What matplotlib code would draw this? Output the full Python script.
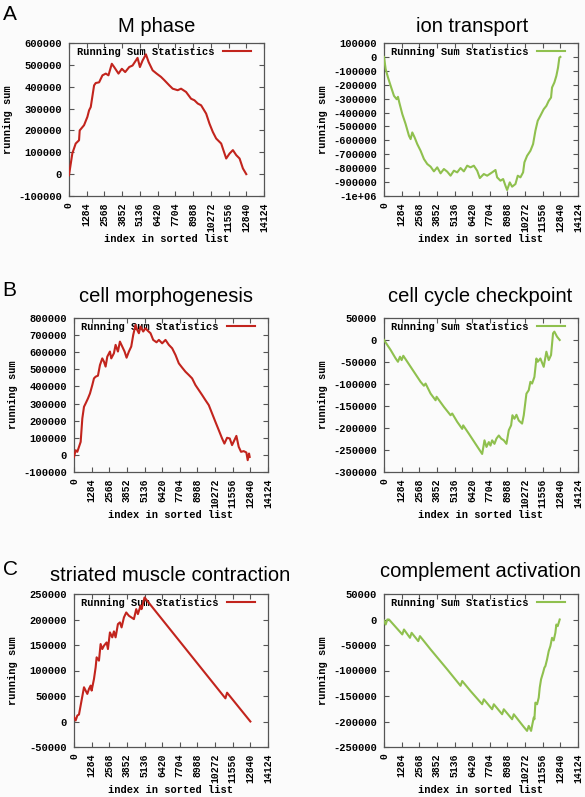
import numpy as np
import matplotlib
matplotlib.use("Agg")
import matplotlib.pyplot as plt
from matplotlib.font_manager import FontProperties
from matplotlib.ticker import FuncFormatter, MultipleLocator

# -----------------------------
# Data
# -----------------------------
mphase_x = [0, 242, 485, 727, 775, 1090, 1332, 1454, 1575, 1817, 1938, 2180, 2423, 2665,
            2859, 3101, 3271, 3585, 3828, 4070, 4361, 4603, 4845, 4966, 5136, 5330, 5572,
            5766, 6057, 6347, 6662, 6904, 7268, 7510, 7873, 8116, 8479, 8842, 9085, 9327,
            9569, 9933, 10175, 10417, 10659, 11023, 11386, 11628, 11871, 12113, 12355,
            12597, 12840]
mphase_y = [-5000, 95000, 140000, 155000, 200000, 224000, 262000, 292000, 307000, 406000,
            417000, 420000, 452000, 460000, 452000, 505000, 490000, 460000, 482000, 467000,
            490000, 497000, 520000, 532000, 490000, 520000, 548000, 513000, 475000, 460000,
            445000, 430000, 406000, 391000, 384000, 391000, 376000, 345000, 338000, 323000,
            315000, 277000, 231000, 193000, 163000, 140000, 71500, 94000, 110000, 87000,
            71500, 26000, 0]

ion_x = [0, 121, 291, 485, 727, 921, 1017, 1114, 1332, 1575, 1817, 1938, 2059, 2229, 2423,
         2665, 2907, 3149, 3392, 3634, 3876, 4118, 4361, 4603, 4845, 5087, 5330, 5572, 5814,
         6057, 6299, 6541, 6783, 6977, 7268, 7510, 7873, 8116, 8237, 8479, 8673, 8842, 8964,
         9157, 9327, 9569, 9739, 9933, 10127, 10223, 10417, 10659, 10853, 11023, 11192,
         11386, 11628, 11822, 11992, 12161, 12234, 12403, 12549, 12670, 12767, 12840]
ion_y = [0, -88000, -148000, -208000, -280000, -304000, -287000, -328000, -411000, -483000,
         -567000, -591000, -543000, -579000, -627000, -675000, -734000, -770000, -789000,
         -823000, -794000, -837000, -806000, -825000, -854000, -818000, -830000, -799000,
         -823000, -782000, -794000, -782000, -818000, -871000, -842000, -854000, -830000,
         -813000, -866000, -890000, -878000, -926000, -957000, -902000, -933000, -914000,
         -854000, -866000, -830000, -758000, -711000, -675000, -627000, -531000, -459000,
         -423000, -376000, -352000, -316000, -292000, -220000, -184000, -136000, -77000,
         -5000, 0]

morph_x = [0, 121, 242, 363, 485, 606, 727, 848, 1017, 1163, 1332, 1454, 1575, 1744, 1890,
           2059, 2180, 2301, 2423, 2616, 2713, 2907, 3028, 3198, 3343, 3513, 3682, 3828,
           3997, 4167, 4312, 4482, 4603, 4724, 4845, 5039, 5209, 5378, 5572, 5766, 6008,
           6178, 6420, 6662, 6904, 7147, 7389, 7631, 7873, 8116, 8358, 8600, 8842, 9085,
           9327, 9569, 9812, 10054, 10296, 10538, 10781, 10950, 11144, 11338, 11507, 11677,
           11822, 11992, 12161, 12355, 12549, 12646, 12743, 12791]
morph_y = [-12000, 27000, 18000, 47000, 76000, 213000, 281000, 301000, 330000, 359000,
           408000, 447000, 457000, 463000, 525000, 564000, 545000, 516000, 574000, 604000,
           564000, 594000, 643000, 604000, 662000, 633000, 604000, 568000, 604000, 633000,
           701000, 760000, 730000, 711000, 750000, 721000, 740000, 725000, 711000, 672000,
           658000, 672000, 652000, 672000, 643000, 623000, 584000, 535000, 510000, 486000,
           467000, 447000, 408000, 379000, 350000, 320000, 291000, 242000, 193000, 145000,
           96000, 66000, 100000, 96000, 57000, 86000, 111000, 47000, 18000, 22000,
           14000, -31000, 8000, -12000]

check_x = [0, 485, 848, 1017, 1163, 1284, 1405, 1696, 2180, 2665, 2907, 3028, 3392, 3755,
           3828, 4361, 4845, 4966, 5330, 5693, 5766, 6178, 6662, 7147, 7316, 7462, 7631,
           7752, 7873, 8043, 8188, 8358, 8527, 8721, 8915, 9085, 9254, 9351, 9497, 9642,
           9812, 10054, 10175, 10369, 10538, 10659, 10781, 10950, 11096, 11192, 11386,
           11628, 11822, 11992, 12161, 12307, 12403, 12597, 12791]
check_y = [0, -22800, -41900, -49500, -38000, -45700, -35800, -49500, -72300, -95100,
           -104000, -99000, -121800, -137000, -129000, -152000, -171000, -167000, -186000,
           -202000, -194000, -213000, -236000, -259000, -228000, -243000, -232000, -240000,
           -228000, -236000, -224000, -217000, -224000, -228000, -236000, -205000, -194000,
           -171000, -179000, -170000, -183000, -190000, -171000, -122000, -114000, -95000,
           -99000, -84000, -42000, -49500, -42000, -61000, -26600, -45700, -34200, 15200,
           19000, 7600, 0]

muscle_x = [0, 121, 242, 363, 727, 969, 1090, 1211, 1284, 1454, 1575, 1647, 1817, 1938,
            2059, 2180, 2374, 2471, 2616, 2786, 2907, 3028, 3198, 3343, 3464, 3634, 3803,
            3997, 4361, 4530, 4651, 4845, 4918, 5136, 11023, 11144, 12840]
muscle_y = [8500, 2000, 11700, 13700, 67100, 54100, 63900, 70400, 60600, 83400, 106000,
            125800, 119300, 151900, 142100, 148600, 155000, 142100, 174700, 165000, 176700,
            165000, 191000, 194300, 184500, 204000, 213800, 207300, 200800, 220300, 210600,
            226900, 220300, 243200, 45400, 56500, 0]

compl_x = [0, 121, 242, 363, 1332, 1454, 1890, 2011, 2495, 2616, 3392, 4603, 5572, 5693,
           6299, 7147, 7268, 7873, 7995, 8600, 8721, 9327, 9448, 10175, 10417, 10538, 10708,
           10805, 10902, 10950, 11023, 11144, 11265, 11338, 11435, 11580, 11677, 11750,
           11871, 11992, 12113, 12234, 12355, 12476, 12549, 12646, 12791]
compl_y = [-2000, -9800, 0, 0, -29300, -19600, -35900, -26100, -42400, -32600, -58700,
           -97800, -130000, -120600, -140200, -166200, -156500, -176000, -166200, -185800,
           -176000, -195600, -185800, -210600, -218400, -208600, -218400, -205000, -192300,
           -195600, -163000, -166200, -153200, -133600, -117300, -104300, -94500, -91300,
           -78200, -62000, -52100, -35900, -41000, -26100, -9800, -13000, 0]

titles = ["M phase", "ion transport", "cell morphogenesis", "cell cycle checkpoint",
          "striated muscle contraction", "complement activation"]
ylims = [(-100000, 600000), (-1000000, 100000), (-100000, 800000), (-300000, 50000),
         (-50000, 250000), (-250000, 50000)]
ysteps = [100000, 100000, 100000, 50000, 50000, 50000]
series = [(mphase_x, mphase_y), (ion_x, ion_y), (morph_x, morph_y),
          (check_x, check_y), (muscle_x, muscle_y), (compl_x, compl_y)]

RED = "#c2241d"
GREEN = "#8fc04e"
colors = [RED, GREEN, RED, GREEN, RED, GREEN]

# -----------------------------
# Layout (pixel boxes: left, top, right, bottom)
# -----------------------------
W, H = 585, 797
boxes = [(69, 43, 264, 196), (384, 43, 578, 196),
         (74, 318, 268, 472), (384, 318, 578, 472),
         (74, 594, 268, 747), (384, 594, 578, 747)]
title_pos = [(157, 32), (472, 32), (166, 302), (480, 302), (170, 581), (480, 577)]
letters = [("A", 3, 20), ("B", 2, 296), ("C", 3, 575)]

BG = "#fbfbfb"
FRAME = "#555555"
mono = dict(family="Liberation Mono", weight="bold", size=7.5)
mono_x = dict(family="Liberation Mono", weight="bold", size=7.0)

fig = plt.figure(figsize=(W / 100, H / 100), dpi=100, facecolor=BG)


def fmt(v, pos):
    if v == -1000000:
        return "-1e+06"
    return "%d" % v


for i in range(6):
    l, t, r, b = boxes[i]
    w, h = r - l, b - t
    ax = fig.add_axes([l / W, 1 - b / H, w / W, h / H], facecolor=BG)
    xs, ys = series[i]
    ax.plot(xs, ys, color=colors[i], lw=1.5, zorder=3, label="Running Sum Statistics")

    ax.set_xlim(0, 14124)
    ax.set_ylim(*ylims[i])
    ax.xaxis.set_major_locator(MultipleLocator(1284))
    ax.yaxis.set_major_locator(MultipleLocator(ysteps[i]))
    ax.yaxis.set_major_formatter(FuncFormatter(fmt))
    ax.tick_params(direction="in", length=3.5, width=0.8, color=FRAME,
                   top=True, right=True)
    ax.tick_params(axis="y", pad=5)
    ax.tick_params(axis="x", pad=4.5)
    for lab in ax.get_yticklabels():
        lab.set_fontproperties(FontProperties(**mono))
    for lab in ax.get_xticklabels():
        lab.set_fontproperties(FontProperties(**mono_x))
    plt.setp(ax.get_xticklabels(), rotation=90, ha="center", va="top")
    for s in ax.spines.values():
        s.set_color(FRAME)
        s.set_linewidth(0.9)

    ax.text(0.5, -43 / h, "index in sorted list", transform=ax.transAxes,
            ha="center", va="center", **mono)
    ax.text(-61 / w, 0.5, "running sum", transform=ax.transAxes, rotation=90,
            ha="center", va="center", **mono)

    leg = ax.legend(loc="upper right", bbox_to_anchor=(1 - 13 / w, 1 - 4 / h),
                    frameon=False, markerfirst=False, handlelength=2.7,
                    handletextpad=0.8, borderaxespad=0, borderpad=0,
                    prop=FontProperties(**mono))
    leg.set_zorder(2)

    tx, ty = title_pos[i]
    fig.text(tx / W, 1 - ty / H, titles[i], ha="center", va="baseline",
             family="Liberation Sans", fontsize=14.5)

for letter, lx, ly in letters:
    fig.text(lx / W, 1 - ly / H, letter, ha="left", va="baseline",
             family="Liberation Sans", fontsize=15)

fig.savefig("out.png", dpi=100, facecolor=BG)
